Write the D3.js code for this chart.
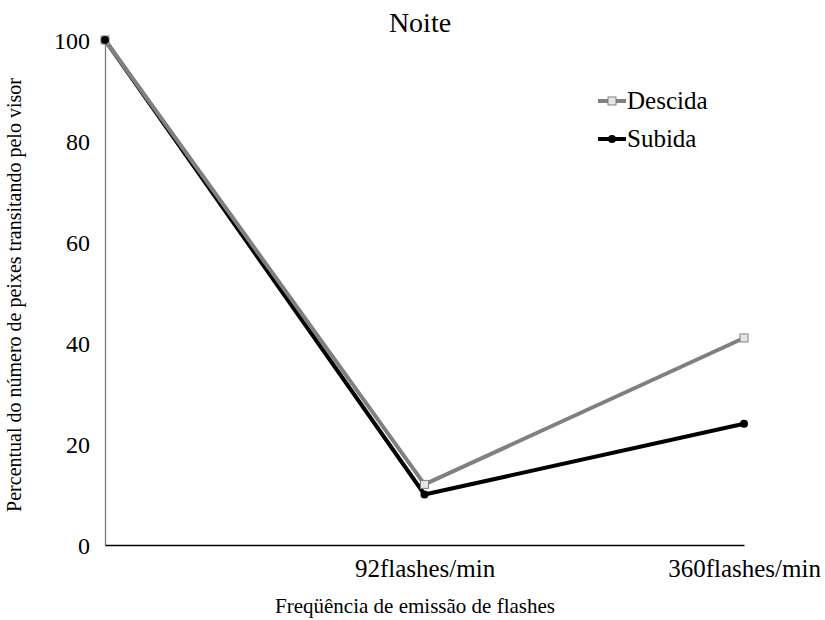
<!DOCTYPE html>
<html><head><meta charset="utf-8">
<script src="https://cdn.jsdelivr.net/npm/d3@7"></script>
<style>body{margin:0;background:#fff}svg{display:block}text{font-family:"Liberation Serif","Times New Roman",serif}</style>
</head><body>
<svg id="c" width="825" height="620"></svg>
<script>
const categories = ["", "92flashes/min", "360flashes/min"];
const descida = [100, 12, 41];
const subida = [100, 10, 24];
const yTicks = [0, 20, 40, 60, 80, 100];
const seriesNames = ["Descida", "Subida"];

const svg = d3.select("#c");
const x = d3.scalePoint().domain(categories).range([105, 744]).padding(0);
const y = d3.scaleLinear().domain([0, 100]).range([545, 40]);

// axes
const yAxis = d3.axisLeft(y).tickValues(yTicks).tickSize(0).tickPadding(15);
const gy = svg.append("g").attr("transform", "translate(105,0)").call(yAxis);
gy.select(".domain").attr("stroke", "#777").attr("stroke-width", 1.3);
gy.selectAll("text").attr("font-size", 24).attr("fill", "#000").attr("dy", "0.36em");

const xAxis = d3.axisBottom(x).tickSize(0).tickPadding(0);
const gx = svg.append("g").attr("transform", "translate(0,545)").call(xAxis);
gx.select(".domain").attr("stroke", "#000").attr("stroke-width", 1.3);
gx.selectAll("text").attr("font-size", 25).attr("fill", "#000").attr("y", 32).attr("dy", 0);

// titles
svg.append("text").attr("x", 420).attr("y", 32).attr("text-anchor", "middle").attr("font-size", 28).text("Noite");
svg.append("text").attr("x", 415).attr("y", 613).attr("text-anchor", "middle").attr("font-size", 21).text("Freqüência de emissão de flashes");
svg.append("text").attr("transform", "translate(21,295) rotate(-90)").attr("text-anchor", "middle").attr("font-size", 20).text("Percentual do número de peixes transitando pelo visor");

const line = d3.line().x((d, i) => x(categories[i])).y(d => y(d));
svg.append("path").datum(subida).attr("d", line).attr("fill", "none").attr("stroke", "#000").attr("stroke-width", 4).attr("stroke-linejoin", "round");
svg.append("path").datum(descida).attr("d", line).attr("fill", "none").attr("stroke", "#808080").attr("stroke-width", 4).attr("stroke-linejoin", "round");

svg.selectAll(".sq").data(descida).enter().append("rect")
  .attr("x", (d, i) => x(categories[i]) - 4).attr("y", d => y(d) - 4).attr("width", 8).attr("height", 8)
  .attr("fill", "#e6e6e6").attr("stroke", "#808080").attr("stroke-width", 1);
svg.selectAll(".ci").data(subida).enter().append("circle")
  .attr("cx", (d, i) => x(categories[i])).attr("cy", d => y(d)).attr("r", 4).attr("fill", "#000");

// legend
const leg = [{name: seriesNames[0], color: "#808080", y: 101, sq: true}, {name: seriesNames[1], color: "#000", y: 139, sq: false}];
leg.forEach(l => {
  svg.append("line").attr("x1", 598).attr("x2", 626).attr("y1", l.y).attr("y2", l.y).attr("stroke", l.color).attr("stroke-width", 4);
  if (l.sq) svg.append("rect").attr("x", 608).attr("y", l.y - 4).attr("width", 8).attr("height", 8).attr("fill", "#e6e6e6").attr("stroke", "#808080");
  else svg.append("circle").attr("cx", 612).attr("cy", l.y).attr("r", 4).attr("fill", "#000");
  svg.append("text").attr("x", 627).attr("y", l.y + 8).attr("font-size", 25).text(l.name);
});
</script>
</body></html>
